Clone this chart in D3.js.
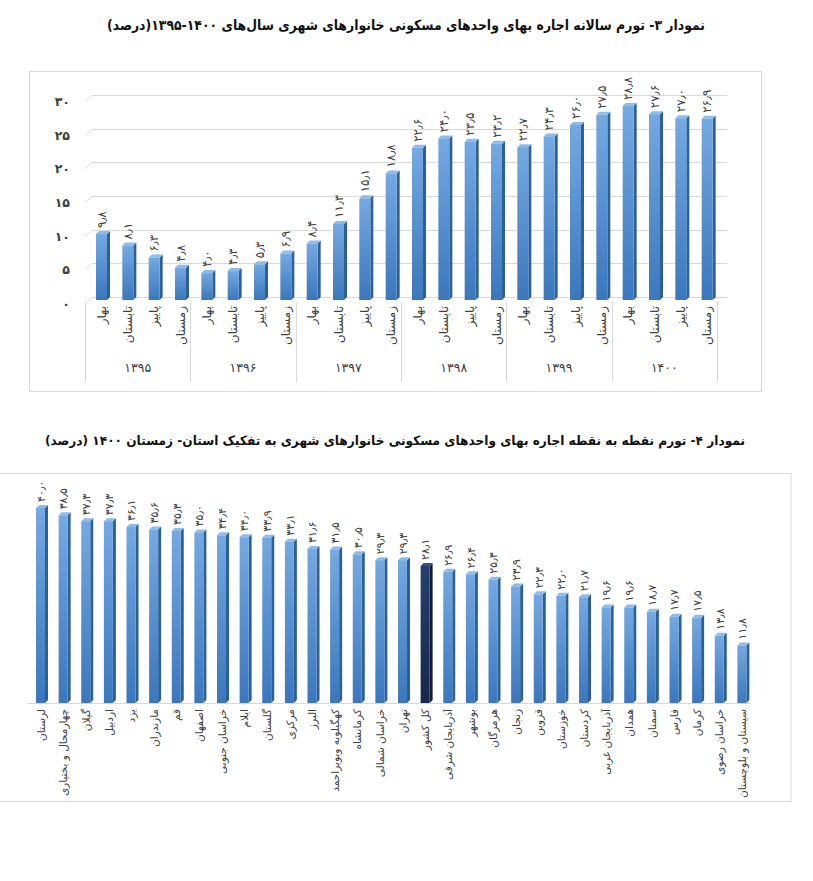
<!DOCTYPE html>
<html>
<head>
<meta charset="utf-8">
<script src="https://cdn.jsdelivr.net/npm/d3@7"></script>
<style>
  body { margin: 0; background: #fff; }
  text { font-family: "DejaVu Sans", sans-serif; }
</style>
</head>
<body>
<div id="chart"></div>
<script>
// datos del nemodar 3 (trimestral por año)
var years = ["1395", "1396", "1397", "1398", "1399", "1400"];
var seasons = ["بهار", "تابستان", "پاییز", "زمستان"];
var annualValues = [
  9.8, 8.1, 6.3, 4.8,
  4.0, 4.3, 5.3, 6.9,
  8.4, 11.3, 15.1, 18.8,
  22.6, 24.0, 23.5, 23.2,
  22.7, 24.3, 26.0, 27.5,
  28.8, 27.6, 27.0, 26.9
];
var annualTicks = [0, 5, 10, 15, 20, 25, 30];

// datos del nemodar 4 (provincias)
var provinces = ["لرستان", "چهارمحال و بختیاری", "گیلان", "اردبیل", "یزد", "مازندران", "قم", "اصفهان",
  "خراسان جنوبی", "ایلام", "گلستان", "مرکزی", "البرز", "کهگیلویه وبویراحمد", "کرمانشاه", "خراسان شمالی",
  "تهران", "کل کشور", "آذربایجان شرقی", "بوشهر", "هرمزگان", "زنجان", "قزوین", "خوزستان",
  "کردستان", "آذربایجان غربی", "همدان", "سمنان", "فارس", "کرمان", "خراسان رضوی", "سیستان و بلوچستان"];
var provinceValues = [40.0, 38.5, 37.3, 37.3, 36.1, 35.6, 35.3, 35.0,
  34.4, 34.0, 33.9, 33.1, 31.6, 31.5, 30.5, 29.3,
  29.3, 28.1, 26.9, 26.4, 25.3, 23.9, 22.3, 22.0,
  21.7, 19.6, 19.6, 18.7, 17.7, 17.5, 13.8, 11.8];
var highlight = "کل کشور";

var title1 = "نمودار ۳- تورم سالانه اجاره بهای واحدهای مسکونی خانوارهای شهری سال‌های ۱۴۰۰-۱۳۹۵(درصد)";
var title2 = "نمودار ۴- تورم نقطه به نقطه  اجاره بهای واحدهای مسکونی خانوارهای شهری به تفکیک استان- زمستان ۱۴۰۰ (درصد)";

// pasar a digitos persas
function fa(s) {
  return String(s).replace(/[0-9]/g, function(c) { return "۰۱۲۳۴۵۶۷۸۹"[+c]; }).replace(".", "٫");
}

var svg = d3.select("#chart").append("svg")
  .attr("width", 813)
  .attr("height", 881);

// gradientes de las barras
var defs = svg.append("defs");
function grad(id, c1, c2) {
  var g = defs.append("linearGradient").attr("id", id)
    .attr("x1", 0).attr("y1", 0).attr("x2", 0).attr("y2", 1);
  g.append("stop").attr("offset", "0%").attr("stop-color", c1);
  g.append("stop").attr("offset", "100%").attr("stop-color", c2);
}
grad("azul", "#74a9e2", "#3a77bd");
grad("oscuro", "#243f6e", "#15284b");

// barra 3d: cara frontal, lateral y tapa
function bar3d(g, x, w, top, base, d, front, side, cap) {
  g.append("polygon")
    .attr("points", [[x + w, top], [x + w + d, top - d], [x + w + d, base - d], [x + w, base]].join(" "))
    .attr("fill", side);
  g.append("polygon")
    .attr("points", [[x, top], [x + d, top - d], [x + w + d, top - d], [x + w, top]].join(" "))
    .attr("fill", cap);
  g.append("rect")
    .attr("x", x).attr("y", top)
    .attr("width", w).attr("height", Math.max(0, base - top))
    .attr("fill", front);
}

// ---------------- grafico 1 ----------------
svg.append("text")
  .attr("x", 406).attr("y", 30)
  .attr("text-anchor", "middle")
  .attr("direction", "rtl")
  .attr("font-size", 14).attr("font-weight", "bold")
  .attr("textLength", 598).attr("lengthAdjust", "spacingAndGlyphs")
  .attr("fill", "#111")
  .text(title1);

svg.append("rect")
  .attr("x", 29.5).attr("y", 71.5).attr("width", 732).attr("height", 320)
  .attr("fill", "none").attr("stroke", "#d9d9d9");

var cats1 = [];
years.forEach(function(yr) { seasons.forEach(function(s) { cats1.push(yr + "|" + s); }); });

var x1 = d3.scaleBand().domain(cats1).range([85, 717]);
var yWall = d3.scaleLinear().domain([0, 30]).range([297, 95]);
var yBar = d3.scaleLinear().domain([0, 30]).range([300, 98]);

var g1 = svg.append("g");

// lineas de la rejilla (con el quiebre 3d a la izquierda)
annualTicks.forEach(function(t) {
  var yy = Math.round(yWall(t)) + 0.5;
  g1.append("path")
    .attr("d", "M85," + (yy + 6) + "L92," + yy + "L727," + yy)
    .attr("fill", "none").attr("stroke", "#d9d9d9");
  g1.append("text")
    .attr("x", 70).attr("y", yy + 6)
    .attr("dy", "0.35em")
    .attr("text-anchor", "end")
    .attr("font-size", 12.5).attr("font-weight", "bold")
    .attr("fill", "#404040")
    .text(fa(t));
});

// separadores de los grupos
var sepX = years.map(function(yr) { return x1(yr + "|" + seasons[0]); });
sepX.push(x1.range()[1]);
sepX.forEach(function(sx) {
  g1.append("line")
    .attr("x1", Math.round(sx) + 0.5).attr("x2", Math.round(sx) + 0.5)
    .attr("y1", 302).attr("y2", 382)
    .attr("stroke", "#d9d9d9");
});

cats1.forEach(function(c, i) {
  var v = annualValues[i];
  var bx = x1(c) + 11;
  var top = yBar(v);
  bar3d(g1, bx, 11, top, 300, 3, "url(#azul)", "#2e5f95", "#8fbbe8");
  var cx = bx + 5.5;
  g1.append("text")
    .attr("transform", "translate(" + cx + "," + (top - 6) + ") rotate(-90)")
    .attr("dy", "0.35em")
    .attr("text-anchor", "start")
    .attr("font-size", 12)
    .attr("fill", "#404040")
    .text(fa(v.toFixed(1)));
  g1.append("text")
    .attr("transform", "translate(" + cx + ",306) rotate(-90)")
    .attr("dy", "0.35em")
    .attr("text-anchor", "end")
    .attr("font-size", 12)
    .attr("fill", "#404040")
    .text(c.split("|")[1]);
});

years.forEach(function(yr) {
  var a = x1(yr + "|" + seasons[0]);
  g1.append("text")
    .attr("x", a + x1.bandwidth() * 2).attr("y", 368)
    .attr("dy", "0.35em")
    .attr("text-anchor", "middle")
    .attr("font-size", 12.5)
    .attr("fill", "#404040")
    .text(fa(yr));
});

// ---------------- grafico 2 ----------------
svg.append("text")
  .attr("x", 395).attr("y", 445)
  .attr("text-anchor", "middle")
  .attr("direction", "rtl")
  .attr("font-size", 13).attr("font-weight", "bold")
  .attr("textLength", 700).attr("lengthAdjust", "spacingAndGlyphs")
  .attr("fill", "#111")
  .text(title2);

svg.append("rect")
  .attr("x", -1).attr("y", 473.5).attr("width", 792).attr("height", 328)
  .attr("fill", "none").attr("stroke", "#d9d9d9");

var x2 = d3.scaleBand().domain(provinces).range([27, 751]);
var y2 = d3.scaleLinear().domain([0, 40]).range([703, 508]);

var g2 = svg.append("g");

g2.append("line")
  .attr("x1", 27).attr("x2", 751)
  .attr("y1", 703.5).attr("y2", 703.5)
  .attr("stroke", "#d9d9d9");

provinces.forEach(function(p, i) {
  var v = provinceValues[i];
  var bx = x2(p) + 9;
  var top = y2(v);
  var dark = p === highlight;
  bar3d(g2, bx, 9, top, 703, 3,
    dark ? "url(#oscuro)" : "url(#azul)",
    dark ? "#0f1d38" : "#2e5f95",
    dark ? "#34507f" : "#8fbbe8");
  var cx = bx + 5;
  g2.append("text")
    .attr("transform", "translate(" + cx + "," + (top - 6) + ") rotate(-90)")
    .attr("dy", "0.35em")
    .attr("text-anchor", "start")
    .attr("font-size", 11)
    .attr("fill", "#404040")
    .text(fa(v.toFixed(1)));
  g2.append("text")
    .attr("transform", "translate(" + cx + ",709) rotate(-90)")
    .attr("dy", "0.35em")
    .attr("text-anchor", "end")
    .attr("font-size", 10.5)
    .attr("fill", "#404040")
    .text(p);
});
</script>
</body>
</html>
